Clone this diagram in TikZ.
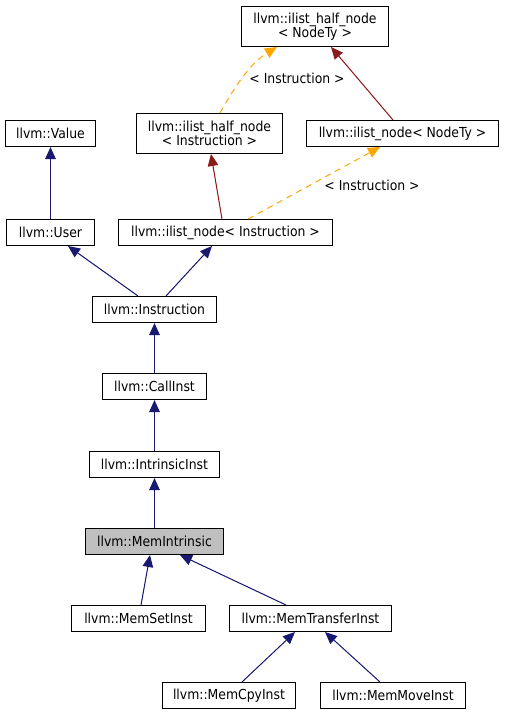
\documentclass[tikz,border=0pt]{standalone}
\usepackage{fontspec}
\setmainfont{DejaVu Sans Condensed}
\usetikzlibrary{arrows.meta}
\definecolor{navy}{HTML}{191970}
\definecolor{firebrick}{HTML}{8B1A1A}
\definecolor{orangec}{HTML}{FFA500}
\begin{document}
\begin{tikzpicture}[x=1pt,y=-1pt,
  cls/.style={draw=black,line width=1pt,fill=white,rectangle,inner sep=0pt,
    minimum height=26pt,font=\fontsize{13.8}{14.5}\selectfont,align=center},
  twoline/.style={minimum height=40pt},
  cur/.style={fill=black!25},
  pub/.style={draw=navy,line width=1pt,-{Triangle[length=12pt,width=10.5pt]},fill=navy},
  priv/.style={draw=firebrick,line width=1pt,-{Triangle[length=12pt,width=10.5pt]},fill=firebrick},
  tmpl/.style={draw=orangec,line width=1pt,dash pattern=on 6pt off 5pt,-{Triangle[length=12pt,width=10.5pt,fill=orangec]}},
  lbl/.style={font=\fontsize{13.8}{14.5}\selectfont,inner sep=0pt}]
\useasboundingbox (0,0) rectangle (504,715);
\fill[white] (0,0) rectangle (504,715);
% nodes
\node[cls,twoline,minimum width=147pt] (hnT) at (315,26.5) {llvm::ilist\_half\_node\\< NodeTy >};
\node[cls,twoline,minimum width=146pt] (hnI) at (209.5,133.5) {llvm::ilist\_half\_node\\< Instruction >};
\node[cls,minimum width=192pt] (nT) at (402.5,133.5) {llvm::ilist\_node< NodeTy >};
\node[cls,minimum width=90pt] (Value) at (50.5,133.5) {llvm::Value};
\node[cls,minimum width=88pt] (User) at (50.5,232.5) {llvm::User};
\node[cls,minimum width=214pt] (nI) at (225.5,232.5) {llvm::ilist\_node< Instruction >};
\node[cls,minimum width=124pt] (Instr) at (154.5,309.5) {llvm::Instruction};
\node[cls,minimum width=104pt] (Call) at (154.5,386.5) {llvm::CallInst};
\node[cls,minimum width=130pt] (Intr) at (154.5,464.5) {llvm::IntrinsicInst};
\node[cls,cur,minimum width=138pt] (MemI) at (154.5,541.5) {llvm::MemIntrinsic};
\node[cls,minimum width=134pt] (MemSet) at (138.5,618.5) {llvm::MemSetInst};
\node[cls,minimum width=162pt] (MemTr) at (310.5,618.5) {llvm::MemTransferInst};
\node[cls,minimum width=133pt] (MemCpy) at (229,695.5) {llvm::MemCpyInst};
\node[cls,minimum width=145pt] (MemMove) at (393,695.5) {llvm::MemMoveInst};
% edges
\draw[pub] (User.north) -- (Value.south);
\draw[pub] ([xshift=-16.5pt]Instr.north) -- ([xshift=17.5pt]User.south);
\draw[pub] ([xshift=11.5pt]Instr.north) -- ([xshift=-13.5pt]nI.south);
\draw[priv] ([xshift=-3.5pt]nI.north) -- ([xshift=1.5pt]hnI.south);
\draw[tmpl] ([xshift=22.5pt]nI.north) -- ([xshift=-22.5pt]nT.south);
\draw[tmpl] ([xshift=10.5pt]hnI.north) .. controls (236,84) and (252,62) .. ([xshift=-38pt]hnT.south);
\draw[priv] ([xshift=-9.5pt]nT.north) -- ([xshift=16pt]hnT.south);
\draw[pub] (Call.north) -- (Instr.south);
\draw[pub] (Intr.north) -- (Call.south);
\draw[pub] (MemI.north) -- (Intr.south);
\draw[pub] ([xshift=2.5pt]MemSet.north) -- ([xshift=-4.5pt]MemI.south);
\draw[pub] ([xshift=-24.5pt]MemTr.north) -- ([xshift=25.5pt]MemI.south);
\draw[pub] ([xshift=13pt]MemCpy.north) -- ([xshift=-15.5pt]MemTr.south);
\draw[pub] ([xshift=-13pt]MemMove.north) -- ([xshift=14.5pt]MemTr.south);
% edge labels
\node[lbl] (l1) at (297,78.5) {< Instruction >};
\node[lbl] (l2) at (372,185.5) {< Instruction >};
\end{tikzpicture}
\end{document}
